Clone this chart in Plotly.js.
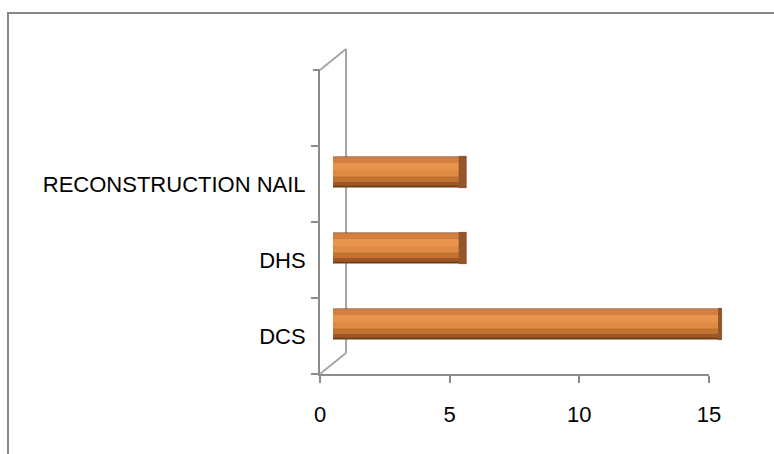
<!DOCTYPE html>
<html>
<head>
<meta charset="utf-8">
<script src="https://cdn.plot.ly/plotly-3.0.1.min.js"></script>
<style>html,body{margin:0;padding:0;background:#fff;}#chart{width:774px;height:454px;}</style>
</head>
<body>
<div id="chart"></div>
<script>
// Data
const categories = ["DCS", "DHS", "RECONSTRUCTION NAIL"];
const values = [15, 5, 5];
const xTickVals = [0, 5, 10, 15];
const xTickText = ["0", "5", "10", "15"];

const W = 774, H = 454;
const L = 320, R = 39, T = 50, B = 80;
const pw = W - L - R, ph = H - T - B;   // 415 x 324
const frontW = 389, frontH = 304;       // front plane size
const depthX = 26, depthY = 21;         // 3D depth of back wall
const midX = 13, midY = 12;             // bars sit at mid depth

const catOrder = categories.slice();
const yRange = [-0.5, 3.5];

function barLayer(offset, width, color) {
  return {
    type: 'bar', orientation: 'h',
    x: values, y: categories,
    xaxis: 'x2', yaxis: 'y2',
    width: width, offset: offset,
    marker: {color: color, line: {width: 0}},
    hoverinfo: 'skip', showlegend: false
  };
}

const traces = [
  // invisible trace so the front axes are drawn
  {
    type: 'scatter', mode: 'markers',
    x: values, y: categories, xaxis: 'x', yaxis: 'y',
    marker: {opacity: 0, size: 1},
    hoverinfo: 'skip', showlegend: false
  },
  // cylinder shading layers
  barLayer(-0.205, 0.41, '#6E3C17'),
  barLayer(-0.18, 0.37, '#9E5726'),
  barLayer(-0.13, 0.32, '#C2722F'),
  barLayer(-0.06, 0.25, '#DE8944'),
  barLayer(0.02, 0.17, '#D37F3F'),
  barLayer(0.02, 0.10, '#EA934D'),
  // end cap
  {
    type: 'scatter', mode: 'markers',
    x: values, y: categories,
    xaxis: 'x2', yaxis: 'y2',
    marker: {symbol: 'line-ns', size: 23, line: {width: 8, color: '#95552A'}},
    hoverinfo: 'skip', showlegend: false
  }
];

const gray = '#8C8C8C';
const layout = {
  width: W, height: H,
  margin: {l: L, r: R, t: T, b: B, pad: 0},
  paper_bgcolor: '#ffffff', plot_bgcolor: 'rgba(0,0,0,0)',
  showlegend: false,
  barmode: 'overlay',
  font: {family: 'Liberation Sans, Arial, sans-serif', color: '#000000'},
  xaxis: {
    domain: [0, frontW / pw], range: [0, 15], anchor: 'y',
    tickvals: xTickVals, ticktext: xTickText,
    showline: true, linecolor: gray, linewidth: 2,
    ticks: 'outside', ticklen: 7, tickwidth: 2, tickcolor: gray,
    ticklabelstandoff: 13,
    showgrid: false, zeroline: false,
    tickfont: {size: 22, color: '#000000'}
  },
  yaxis: {
    domain: [0, frontH / ph], anchor: 'x', type: 'category',
    categoryorder: 'array', categoryarray: catOrder, range: yRange,
    showline: true, linecolor: gray, linewidth: 2,
    ticks: 'outside', ticklen: 7, tickwidth: 2, tickcolor: gray,
    tickson: 'boundaries',
    ticklabelstandoff: 8,
    showgrid: false, zeroline: false,
    tickfont: {size: 22, color: '#000000'}
  },
  xaxis2: {
    domain: [midX / pw, (frontW + midX) / pw], range: [0, 15], anchor: 'y2',
    visible: false, showgrid: false, zeroline: false
  },
  yaxis2: {
    domain: [midY / ph, (frontH + midY) / ph], anchor: 'x2', type: 'category',
    categoryorder: 'array', categoryarray: catOrder, range: yRange,
    visible: false, showgrid: false, zeroline: false
  },
  shapes: [
    // back wall vertical edge
    {type: 'line', xref: 'paper', yref: 'paper', layer: 'below',
     x0: depthX / pw, x1: depthX / pw, y0: depthY / ph, y1: (frontH + depthY) / ph,
     line: {color: '#A6A6A6', width: 2}},
    // top diagonal
    {type: 'line', xref: 'paper', yref: 'paper', layer: 'below',
     x0: 0, y0: frontH / ph, x1: depthX / pw, y1: (frontH + depthY) / ph,
     line: {color: '#A6A6A6', width: 2}},
    // bottom diagonal
    {type: 'line', xref: 'paper', yref: 'paper', layer: 'below',
     x0: 0, y0: 0, x1: depthX / pw, y1: depthY / ph,
     line: {color: '#A6A6A6', width: 2}},
    // top tick of the category axis
    {type: 'line', xref: 'paper', yref: 'paper', layer: 'below',
     x0: -7 / pw, x1: 0, y0: frontH / ph, y1: frontH / ph,
     line: {color: gray, width: 2}},
    // outer chart border
    {type: 'rect', xref: 'paper', yref: 'paper', layer: 'below',
     x0: (8 - L) / pw, x1: (W + 20 - L) / pw,
     y0: -(B + 20) / ph, y1: (H - B - 13) / ph,
     line: {color: '#878787', width: 2}, fillcolor: 'rgba(0,0,0,0)'}
  ]
};

Plotly.newPlot('chart', traces, layout, {staticPlot: true, displayModeBar: false});
</script>
</body>
</html>
